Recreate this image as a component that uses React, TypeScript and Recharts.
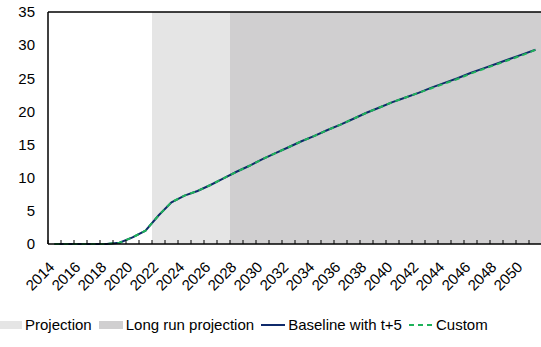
import React from 'react'
import {
  ComposedChart,
  Line,
  XAxis,
  YAxis,
  ReferenceArea,
  ReferenceLine,
} from 'recharts'

const years = [
  '2014', '2015', '2016', '2017', '2018', '2019', '2020', '2021', '2022', '2023',
  '2024', '2025', '2026', '2027', '2028', '2029', '2030', '2031', '2032', '2033',
  '2034', '2035', '2036', '2037', '2038', '2039', '2040', '2041', '2042', '2043',
  '2044', '2045', '2046', '2047', '2048', '2049', '2050', '2051',
]
const baseline = [
  0, 0, 0, 0, 0, 0.2, 1.0, 2.0, 4.3, 6.3,
  7.3, 8.0, 8.9, 9.9, 10.9, 11.8, 12.8, 13.7, 14.6, 15.5,
  16.3, 17.2, 18.0, 18.9, 19.8, 20.6, 21.4, 22.1, 22.8, 23.6,
  24.3, 25.0, 25.8, 26.5, 27.2, 27.9, 28.6, 29.3,
]
const custom = [
  0, 0, 0, 0, 0, 0.2, 1.0, 2.0, 4.3, 6.3,
  7.3, 8.0, 8.9, 9.9, 10.9, 11.8, 12.8, 13.7, 14.6, 15.5,
  16.3, 17.2, 18.0, 18.9, 19.8, 20.6, 21.4, 22.1, 22.8, 23.5,
  24.2, 24.9, 25.7, 26.4, 27.1, 27.8, 28.5, 29.3,
]
const yTicks = [0, 5, 10, 15, 20, 25, 30, 35]
const projection = ['2022', '2027']
const longRun = ['2028', '2051']
const legendItems = [
  { name: 'Projection', kind: 'box', color: '#e5e5e5' },
  { name: 'Long run projection', kind: 'box', color: '#d0cfd0' },
  { name: 'Baseline with t+5', kind: 'line', color: '#0f2a6b' },
  { name: 'Custom', kind: 'dash', color: '#1fb25a' },
]

const data = years.map((year, i) => ({ year, baseline: baseline[i], custom: custom[i] }))

const FONT = '"Liberation Sans", Arial, sans-serif'
const FS = 15
const Y_AXIS_W = 48
const PLOT_W = 494
const BAND = PLOT_W / years.length

function YearTick(props: any) {
  const { x, y, payload } = props
  const year = Number(payload.value)
  const left = x - BAND / 2
  const tx = x + 1
  const ty = y + 24
  return (
    <g>
      <line x1={left} x2={left} y1={y - 4} y2={y} stroke="#000" strokeWidth={1} />
      {year % 2 === 0 && (
        <text
          x={tx}
          y={ty}
          textAnchor="end"
          fontSize={FS}
          fontFamily={FONT}
          fill="#000"
          transform={`rotate(-45 ${tx} ${ty})`}
        >
          {payload.value}
        </text>
      )}
    </g>
  )
}

function ChartLegend() {
  return (
    <div style={{ position: 'absolute', left: -2, top: 316, display: 'flex', alignItems: 'center', fontFamily: FONT, fontSize: FS, color: '#000', whiteSpace: 'nowrap' }}>
      {legendItems.map((it) => (
        <div key={it.name} style={{ display: 'flex', alignItems: 'center', marginRight: 7 }}>
          <svg width={24} height={10} style={{ marginRight: 3 }}>
            {it.kind === 'box' && <rect x={0} y={1} width={24} height={8} fill={it.color} />}
            {it.kind === 'line' && <line x1={0} x2={24} y1={5} y2={5} stroke={it.color} strokeWidth={2} />}
            {it.kind === 'dash' && <line x1={0} x2={24} y1={5} y2={5} stroke={it.color} strokeWidth={2} strokeDasharray="5 4" />}
          </svg>
          <span>{it.name}</span>
        </div>
      ))}
    </div>
  )
}

export default function App() {
  return (
    <div style={{ position: 'absolute', left: 0, top: 0, width: 541, height: 347, overflow: 'hidden', background: '#fff', fontFamily: FONT }}>
      <ComposedChart
        width={Y_AXIS_W + PLOT_W}
        height={347}
        data={data}
        margin={{ top: 12, right: 0, left: 0, bottom: 0 }}
      >
        <ReferenceArea x1={projection[0]} x2={projection[1]} fill="#e5e5e5" fillOpacity={1} stroke="none" />
        <ReferenceArea x1={longRun[0]} x2={longRun[1]} fill="#d0cfd0" fillOpacity={1} stroke="none" />
        <XAxis
          dataKey="year"
          scale="band"
          interval={0}
          height={103}
          tickSize={0}
          tickMargin={0}
          tickLine={false}
          axisLine={{ stroke: '#000', strokeWidth: 1.5 }}
          tick={(p: any) => <YearTick {...p} />}
        />
        <YAxis
          width={Y_AXIS_W}
          domain={[0, 35]}
          ticks={yTicks}
          interval={0}
          tickSize={0}
          tickMargin={13}
          tickLine={false}
          axisLine={{ stroke: '#000', strokeWidth: 1.5 }}
          tick={{ fontSize: FS, fill: '#000', fontFamily: FONT }}
        />
        <ReferenceLine y={35} stroke="#000" strokeWidth={1.5} />
        <Line dataKey="baseline" name="Baseline with t+5" stroke="#0f2a6b" strokeWidth={2} dot={false} isAnimationActive={false} />
        <Line dataKey="custom" name="Custom" stroke="#1fb25a" strokeWidth={2} strokeDasharray="5 4" dot={false} isAnimationActive={false} />
      </ComposedChart>
      <ChartLegend />
    </div>
  )
}
